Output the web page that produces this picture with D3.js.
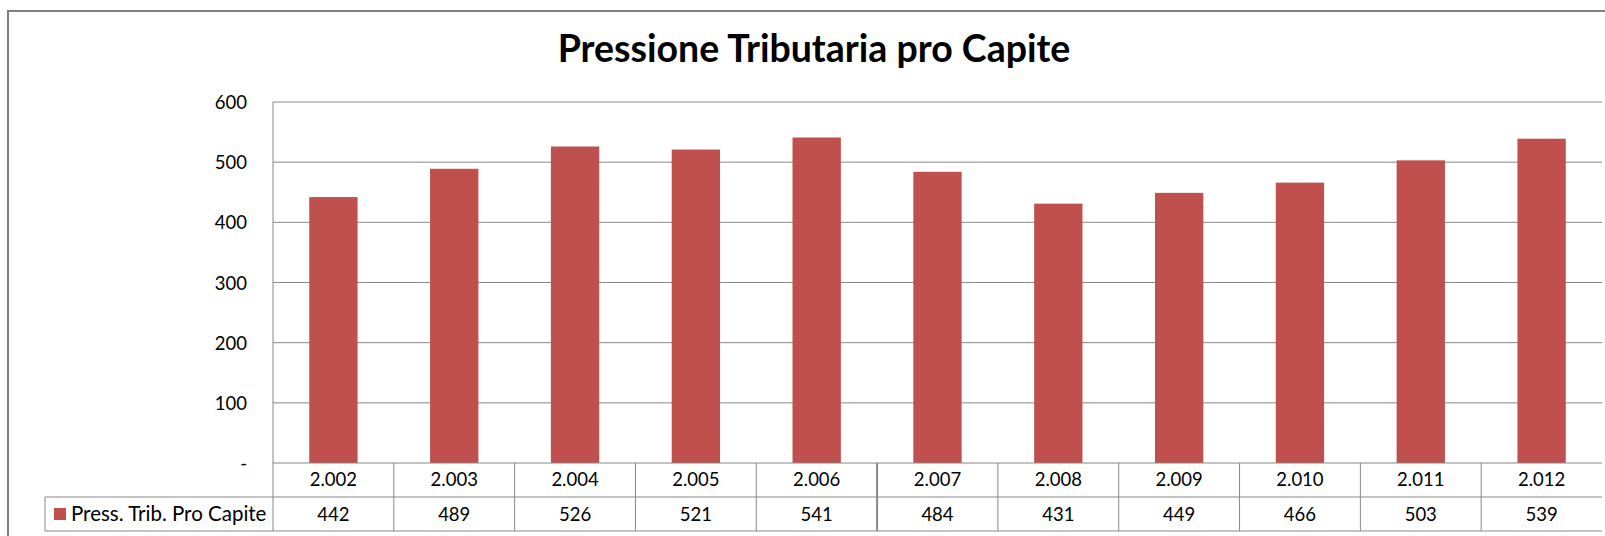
<!DOCTYPE html>
<html>
<head>
<meta charset="utf-8">
<script src="https://cdn.jsdelivr.net/npm/d3@7"></script>
<style>
  body { margin: 0; background: #fff; }
  svg { display: block; }
  text { font-family: Lato, "Open Sans", sans-serif; fill: #000; }
</style>
</head>
<body>
<div id="wrapper"></div>
<script>
// data
var years = ["2.002", "2.003", "2.004", "2.005", "2.006", "2.007", "2.008", "2.009", "2.010", "2.011", "2.012"];
var values = [442, 489, 526, 521, 541, 484, 431, 449, 466, 503, 539];
var yTicks = [0, 100, 200, 300, 400, 500, 600];
var seriesName = "Press. Trib. Pro Capite";
var title = "Pressione Tributaria pro Capite";

var W = 1605, H = 536;
var margin = {top: 102, right: 3, bottom: 73, left: 273};
var plotW = W - margin.left - margin.right,
    plotH = H - margin.top - margin.bottom;
var rowH = 34;
var fontSize = "18.5px";
var barColor = "#c0504d", lineColor = "#888888";

var svg = d3.select("#wrapper").append("svg")
  .attr("width", W)
  .attr("height", H);

// outer frame (only top and left are visible)
svg.append("rect")
  .attr("x", 8).attr("y", 11)
  .attr("width", W + 20).attr("height", H + 20)
  .attr("fill", "none")
  .attr("stroke", "#7f7f7f")
  .attr("stroke-width", 2);

svg.append("text")
  .attr("x", 814).attr("y", 62)
  .attr("text-anchor", "middle")
  .style("font-size", "37.5px")
  .style("font-weight", "bold")
  .text(title);

var x = d3.scaleBand()
  .domain(years)
  .range([0, plotW])
  .paddingInner(0.6)
  .paddingOuter(0.3);

var y = d3.scaleLinear()
  .domain([0, 600])
  .range([plotH, 0]);

var g = svg.append("g")
  .attr("transform", "translate(" + margin.left + "," + margin.top + ")");

// gridlines
g.append("g").selectAll("line")
  .data(yTicks.filter(function(d) { return d > 0; }))
  .enter().append("line")
    .attr("x1", 0).attr("x2", plotW)
    .attr("y1", function(d) { return y(d); })
    .attr("y2", function(d) { return y(d); })
    .attr("stroke", lineColor)
    .attr("stroke-width", 1);

// y tick labels
g.append("g").selectAll("text")
  .data(yTicks)
  .enter().append("text")
    .attr("x", -26)
    .attr("y", function(d) { return y(d) + 7; })
    .attr("text-anchor", "end")
    .style("font-size", fontSize)
    .text(function(d) { return d === 0 ? "-" : d; });

// bars
g.append("g").selectAll("rect")
  .data(values)
  .enter().append("rect")
    .attr("x", function(d, i) { return x(years[i]); })
    .attr("width", x.bandwidth())
    .attr("y", function(d) { return y(d); })
    .attr("height", function(d) { return plotH - y(d); })
    .attr("fill", barColor);

// y axis line + data table
var step = plotW / years.length;
var table = g.append("g");

table.append("line")
  .attr("x1", 0).attr("x2", 0)
  .attr("y1", 0).attr("y2", plotH + 2 * rowH)
  .attr("stroke", lineColor);

[0, rowH, 2 * rowH].forEach(function(off, k) {
  table.append("line")
    .attr("x1", k === 0 ? 0 : 45 - margin.left).attr("x2", plotW)
    .attr("y1", plotH + off).attr("y2", plotH + off)
    .attr("stroke", lineColor);
});

table.append("line")
  .attr("x1", 45 - margin.left).attr("x2", 45 - margin.left)
  .attr("y1", plotH + rowH).attr("y2", plotH + 2 * rowH)
  .attr("stroke", lineColor);

table.selectAll(".sep")
  .data(years.slice(1))
  .enter().append("line")
    .attr("class", "sep")
    .attr("x1", function(d, i) { return (i + 1) * step; })
    .attr("x2", function(d, i) { return (i + 1) * step; })
    .attr("y1", plotH).attr("y2", plotH + 2 * rowH)
    .attr("stroke", lineColor)
    .attr("stroke-width", function(d, i) { return i === 4 ? 2 : 1; });

table.selectAll(".year")
  .data(years)
  .enter().append("text")
    .attr("class", "year")
    .attr("x", function(d) { return x(d) + x.bandwidth() / 2; })
    .attr("y", plotH + 23)
    .attr("text-anchor", "middle")
    .style("font-size", fontSize)
    .text(function(d) { return d; });

table.selectAll(".val")
  .data(values)
  .enter().append("text")
    .attr("class", "val")
    .attr("x", function(d, i) { return x(years[i]) + x.bandwidth() / 2; })
    .attr("y", plotH + rowH + 24)
    .attr("text-anchor", "middle")
    .style("font-size", fontSize)
    .text(function(d) { return d; });

// legend key in the table
table.append("rect")
  .attr("x", 54 - margin.left).attr("y", plotH + rowH + 11)
  .attr("width", 12).attr("height", 12)
  .attr("fill", barColor);

table.append("text")
  .attr("x", 71 - margin.left)
  .attr("y", plotH + rowH + 24)
  .style("font-size", "20.5px")
  .text(seriesName);
</script>
</body>
</html>
